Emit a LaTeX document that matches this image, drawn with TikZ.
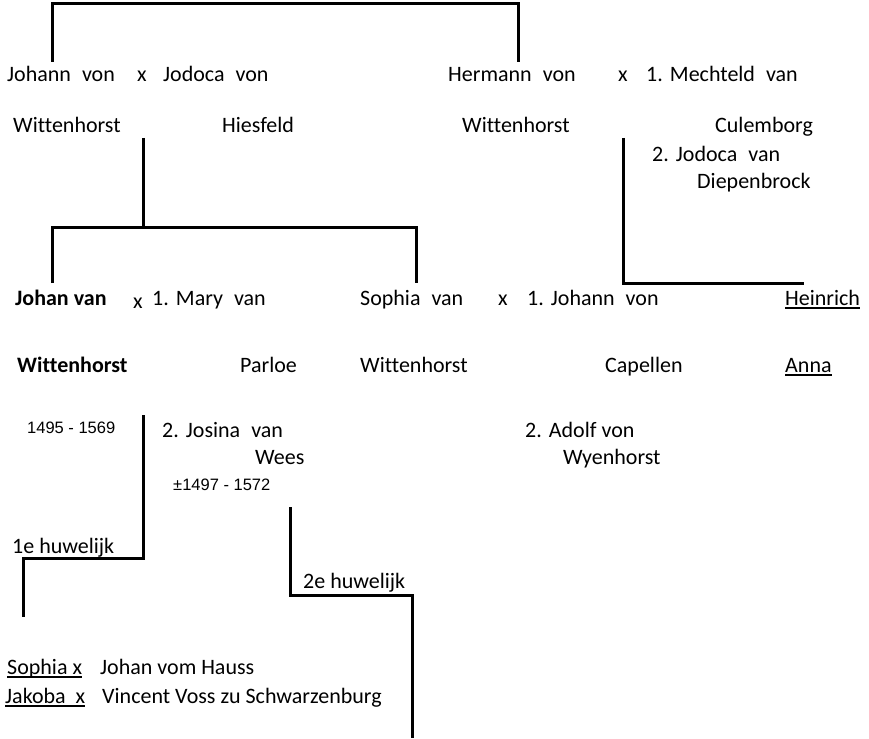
\documentclass[tikz,border=0pt]{standalone}
\usepackage{fontspec}
\setmainfont[Ligatures=NoCommon]{Carlito}
\newfontfamily\datefont{Liberation Sans}
\usepackage{tikz}
\frenchspacing
\newcommand{\undl}[1]{\setbox0\hbox{#1}\rlap{\rule[-4pt]{\wd0}{2pt}}\box0}
\newcommand{\wsp}{\hspace{0.5em}}
\newcommand{\nsp}{\hspace{0.32em}}
\tikzset{lbl/.style={anchor=base west, inner sep=0pt},
  dt/.style={lbl, font=\fontsize{16.5}{20}\selectfont\datefont},
  tree/.style={line width=3pt}}

\begin{document}
\begin{tikzpicture}[x=1pt, y=-1pt, font=\fontsize{22}{26}\selectfont]
  \useasboundingbox (0,0) rectangle (869,738);

  % parents
  \draw node[lbl] (jvw) at (7,82) {Johann\wsp von};
  \draw node[lbl] (x1) at (137,82) {x};
  \draw node[lbl] (jvh) at (163,82) {Jodoca\wsp von};
  \draw node[lbl] (jvw2) at (13,133) {Wittenhorst};
  \draw node[lbl] (jvh2) at (222,133) {Hiesfeld};

  \draw node[lbl] (hvw) at (448,82) {Hermann\wsp von};
  \draw node[lbl] (x2) at (618,82) {x};
  \draw node[lbl] (mvc) at (646,82) {1.\nsp Mechteld\wsp van};
  \draw node[lbl] (hvw2) at (462,133) {Wittenhorst};
  \draw node[lbl] (mvc2) at (715,133) {Culemborg};
  \draw node[lbl] (jvd) at (652,162) {2.\nsp Jodoca\wsp van};
  \draw node[lbl] (jvd2) at (697,188) {Diepenbrock};

  % children
  \draw node[lbl] (johan) at (15,305) {\textbf{Johan van}};
  \draw node[lbl] (x3) at (133,308) {x};
  \draw node[lbl] (mary) at (152,305) {1.\nsp Mary\wsp van};
  \draw node[lbl] (sophia) at (360,305) {Sophia\wsp van};
  \draw node[lbl] (x4) at (498,305) {x};
  \draw node[lbl] (jvc) at (527,305) {1.\nsp Johann\wsp von};
  \draw node[lbl] (hein) at (785,305) {\undl{Heinrich}};
  \draw node[lbl] (johan2) at (17,372) {\textbf{Wittenhorst}};
  \draw node[lbl] (mary2) at (240,372) {Parloe};
  \draw node[lbl] (sophia2) at (360,372) {Wittenhorst};
  \draw node[lbl] (jvc2) at (605,372) {Capellen};
  \draw node[lbl] (anna) at (785,372) {\undl{Anna}};

  \draw node[dt] (jdate) at (27,433) {1495 - 1569};
  \draw node[lbl] (josina) at (162,437) {2.\nsp Josina\wsp van};
  \draw node[lbl] (josina2) at (255,464) {Wees};
  \draw node[dt] (jsdate) at (173,490) {\textpm1497 - 1572};
  \draw node[lbl] (adolf) at (525,437) {2.\nsp Adolf von};
  \draw node[lbl] (adolf2) at (563,464) {Wyenhorst};

  \draw node[lbl] (h1) at (12,553) {1e huwelijk};
  \draw node[lbl] (h2) at (303,588) {2e huwelijk};

  % grandchildren
  \draw node[lbl] (soph) at (7,674) {\undl{Sophia x}};
  \draw node[lbl] (jvh3) at (100,674) {Johan vom Hauss};
  \draw node[lbl] (jak) at (5,703) {\undl{Jakoba\ \ x}};
  \draw node[lbl] (vvs) at (102,703) {Vincent Voss zu Schwarzenburg};

  % lines
  \coordinate (jvwTop) at (52,62);
  \coordinate (hvwTop) at (518,62);
  \coordinate (topBar) at (52,4);
  \draw[tree] (jvwTop) -- (topBar) -| (hvwTop);

  \coordinate (jjDrop) at (143,138);
  \coordinate (jjBar) at (143,227);
  \coordinate (johanTop) at (52,283);
  \coordinate (sophiaTop) at (416,283);
  \draw[tree] (jjDrop) -- (jjBar);
  \draw[tree] (johanTop) |- (jjBar) -| (sophiaTop);

  \coordinate (hmDrop) at (623,138);
  \coordinate (heinTop) at (804,283);
  \draw[tree] (hmDrop) |- (heinTop);

  \coordinate (m1Drop) at (143,415);
  \coordinate (m1Bar) at (23,558);
  \coordinate (m1Kid) at (23,617);
  \draw[tree] (m1Drop) |- (m1Bar) -- (m1Kid);

  \coordinate (m2Drop) at (290,507);
  \coordinate (m2Bar) at (412,595);
  \coordinate (m2Kid) at (412,738);
  \draw[tree] (m2Drop) |- (m2Bar) -- (m2Kid);
\end{tikzpicture}
\end{document}
